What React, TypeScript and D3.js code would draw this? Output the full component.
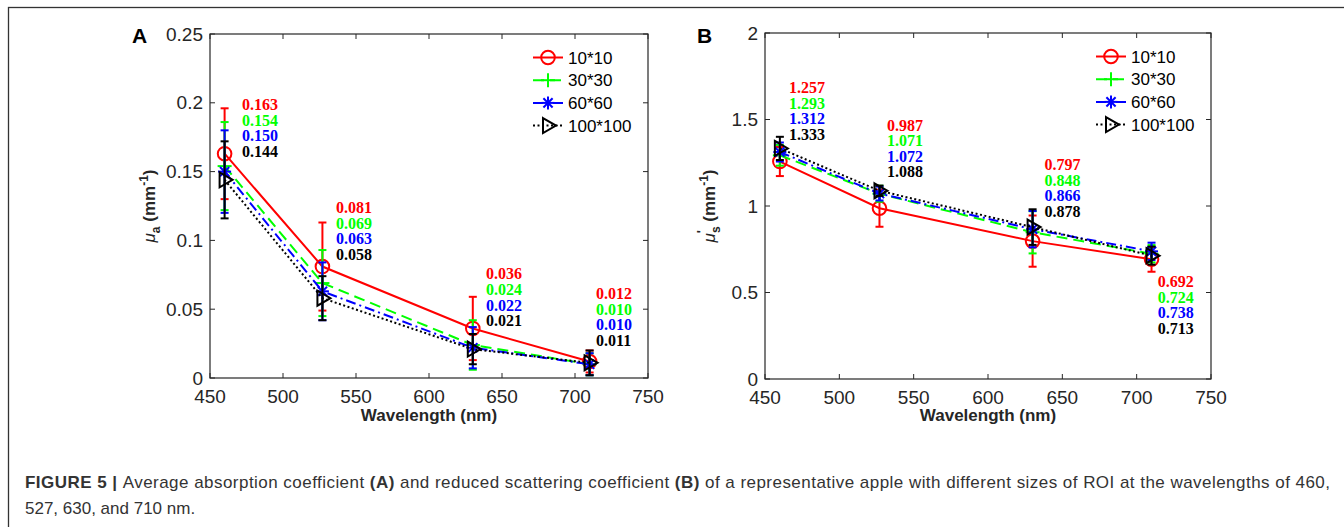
import React from 'react';
import * as d3 from 'd3';

const wavelengths = [460, 527, 630, 710];
const seriesNames = ['10*10', '30*30', '60*60', '100*100'];
const seriesColors = ['#ff0000', '#00ff00', '#0000ff', '#000000'];
const seriesDash = ['none', '11,6', '10,4,2,4', '2,2.5'];
const seriesMarkers = ['circle', 'plus', 'star', 'triangle'];

// Panel A: absorption coefficient (mm^-1)
const muA_10 = [0.163, 0.081, 0.036, 0.012];
const muA_30 = [0.154, 0.069, 0.024, 0.010];
const muA_60 = [0.150, 0.063, 0.022, 0.010];
const muA_100 = [0.144, 0.058, 0.021, 0.011];
const muAErr_10 = [0.033, 0.032, 0.023, 0.008];
const muAErr_30 = [0.032, 0.024, 0.018, 0.008];
const muAErr_60 = [0.030, 0.021, 0.015, 0.008];
const muAErr_100 = [0.028, 0.016, 0.011, 0.009];

// Panel B: reduced scattering coefficient (mm^-1)
const muS_10 = [1.257, 0.987, 0.797, 0.692];
const muS_30 = [1.293, 1.071, 0.848, 0.724];
const muS_60 = [1.312, 1.072, 0.866, 0.738];
const muS_100 = [1.333, 1.088, 0.878, 0.713];
const muSErr_10 = [0.084, 0.107, 0.148, 0.072];
const muSErr_30 = [0.060, 0.046, 0.122, 0.050];
const muSErr_60 = [0.055, 0.040, 0.105, 0.050];
const muSErr_100 = [0.067, 0.030, 0.103, 0.052];

const xTicks = [450, 500, 550, 600, 650, 700, 750];
const yTicksA = [0, 0.05, 0.1, 0.15, 0.2, 0.25];
const yTicksB = [0, 0.5, 1, 1.5, 2];

// annotation anchors in data units (wavelength, value of first line baseline)
const annotA = [[471.9, 0.1948], [536.3, 0.1199], [639, 0.0717], [714.4, 0.0572]];
const annotB = [[466.1, 1.653], [532.1, 1.436], [638, 1.208], [714.1, 0.532]];

const AXIS = '#262626';
const SANS = 'Liberation Sans, Arial, Helvetica, sans-serif';
const SERIF = 'Liberation Serif, Times New Roman, serif';

function Marker({ kind, x, y, color }: { kind: string; x: number; y: number; color: string }) {
  const sw = 2;
  if (kind === 'circle') return <circle cx={x} cy={y} r={6.8} fill="none" stroke={color} strokeWidth={sw} />;
  if (kind === 'plus')
    return (
      <g stroke={color} strokeWidth={sw}>
        <line x1={x - 7} x2={x + 7} y1={y} y2={y} />
        <line x1={x} x2={x} y1={y - 7} y2={y + 7} />
      </g>
    );
  if (kind === 'star')
    return (
      <g stroke={color} strokeWidth={sw}>
        <line x1={x - 6.5} x2={x + 6.5} y1={y} y2={y} />
        <line x1={x} x2={x} y1={y - 6.5} y2={y + 6.5} />
        <line x1={x - 4.6} x2={x + 4.6} y1={y - 4.6} y2={y + 4.6} />
        <line x1={x - 4.6} x2={x + 4.6} y1={y + 4.6} y2={y - 4.6} />
      </g>
    );
  return (
    <path
      d={`M${x - 5},${y - 7.5}L${x + 8},${y}L${x - 5},${y + 7.5}Z`}
      fill="none"
      stroke={color}
      strokeWidth={sw}
    />
  );
}

type PanelProps = {
  box: { left: number; right: number; top: number; bottom: number };
  yMax: number;
  yTicks: number[];
  values: number[][];
  errors: number[][];
  annot: number[][];
  letter: string;
  letterX: number;
  yLabelX: number;
  yLabel: React.ReactNode;
};

function Panel(p: PanelProps) {
  const { box } = p;
  const x = d3.scaleLinear().domain([450, 750]).range([box.left, box.right]);
  const y = d3.scaleLinear().domain([0, p.yMax]).range([box.bottom, box.top]);
  const line = d3
    .line<number>()
    .x((_, i) => x(wavelengths[i]))
    .y((d) => y(d));
  const tl = 5;
  const fmt = (v: number) => String(+v.toFixed(3));
  const cx = (box.left + box.right) / 2;
  const cy = (box.top + box.bottom) / 2;
  return (
    <g>
      <rect x={box.left} y={box.top} width={box.right - box.left} height={box.bottom - box.top} fill="none" stroke={AXIS} strokeWidth={1.2} />
      {xTicks.map((t) => (
        <g key={'xt' + t}>
          <line x1={x(t)} x2={x(t)} y1={box.bottom} y2={box.bottom - tl} stroke={AXIS} strokeWidth={1} />
          <line x1={x(t)} x2={x(t)} y1={box.top} y2={box.top + tl} stroke={AXIS} strokeWidth={1} />
          <text x={x(t)} y={box.bottom + 25} textAnchor="middle" fontFamily={SANS} fontSize={19} fill={AXIS}>
            {t}
          </text>
        </g>
      ))}
      {p.yTicks.map((t) => (
        <g key={'yt' + t}>
          <line x1={box.left} x2={box.left + tl} y1={y(t)} y2={y(t)} stroke={AXIS} strokeWidth={1} />
          <line x1={box.right} x2={box.right - tl} y1={y(t)} y2={y(t)} stroke={AXIS} strokeWidth={1} />
          <text x={box.left - 7} y={y(t) + 6.5} textAnchor="end" fontFamily={SANS} fontSize={19} fill={AXIS}>
            {fmt(t)}
          </text>
        </g>
      ))}
      <text x={cx} y={421} textAnchor="middle" fontFamily={SANS} fontWeight="bold" fontSize={17} fill={AXIS}>
        Wavelength (nm)
      </text>
      <text transform={`translate(${p.yLabelX},${cy}) rotate(-90)`} textAnchor="middle" fontFamily={SANS} fontWeight="bold" fontSize={17} fill={AXIS}>
        {p.yLabel}
      </text>
      <text x={p.letterX} y={43} fontFamily={SANS} fontWeight="bold" fontSize={21} fill="#000">
        {p.letter}
      </text>
      {p.values.map((vals, si) => (
        <g key={'s' + si}>
          <path d={line(vals) || ''} fill="none" stroke={seriesColors[si]} strokeWidth={2} strokeDasharray={seriesDash[si]} />
          {vals.map((v, i) => {
            const px = x(wavelengths[i]);
            const e = p.errors[si][i];
            return (
              <g key={'e' + i} stroke={seriesColors[si]} strokeWidth={2}>
                <line x1={px} x2={px} y1={y(v - e)} y2={y(v + e)} />
                <line x1={px - 4} x2={px + 4} y1={y(v - e)} y2={y(v - e)} />
                <line x1={px - 4} x2={px + 4} y1={y(v + e)} y2={y(v + e)} />
              </g>
            );
          })}
          {vals.map((v, i) => (
            <Marker key={'m' + i} kind={seriesMarkers[si]} x={x(wavelengths[i])} y={y(v)} color={seriesColors[si]} />
          ))}
        </g>
      ))}
      {p.annot.map((a, gi) => (
        <g key={'a' + gi}>
          {p.values.map((vals, si) => (
            <text
              key={si}
              x={x(a[0])}
              y={y(a[1]) + si * 15.6}
              fontFamily={SERIF}
              fontWeight="bold"
              fontSize={16}
              fill={seriesColors[si]}
            >
              {vals[gi].toFixed(3)}
            </text>
          ))}
        </g>
      ))}
      {seriesNames.map((n, si) => {
        const ly = box.top + 23.5 + si * 22.7;
        const lx0 = box.right - 115;
        const lx1 = box.right - 85;
        return (
          <g key={'l' + si}>
            <line x1={lx0} x2={lx1} y1={ly} y2={ly} stroke={seriesColors[si]} strokeWidth={2} strokeDasharray={seriesDash[si]} />
            <Marker kind={seriesMarkers[si]} x={(lx0 + lx1) / 2} y={ly} color={seriesColors[si]} />
            <text x={box.right - 80} y={ly + 6} fontFamily={SANS} fontSize={17} fill="#000">
              {n}
            </text>
          </g>
        );
      })}
    </g>
  );
}

export default function App() {
  const labelA = (
    <>
      <tspan fontStyle="italic" fontWeight="normal">μ</tspan>
      <tspan fontSize={12} dy={5}>a</tspan>
      <tspan dy={-5}> (mm</tspan>
      <tspan fontSize={12} dy={-7}>-1</tspan>
      <tspan dy={7}>)</tspan>
    </>
  );
  const labelB = (
    <>
      <tspan fontStyle="italic" fontWeight="normal">μ</tspan>
      <tspan fontSize={13} dy={-9}>'</tspan>
      <tspan fontSize={12} dx={-3} dy={14}>s</tspan>
      <tspan dy={-5}> (mm</tspan>
      <tspan fontSize={12} dy={-7}>-1</tspan>
      <tspan dy={7}>)</tspan>
    </>
  );
  return (
    <svg width={1344} height={527} style={{ position: 'absolute', left: 0, top: 0, background: '#fff' }}>
      <rect x={0} y={0} width={1344} height={527} fill="#fff" />
      <rect x={8.5} y={7.5} width={1345} height={530} fill="none" stroke="#333" strokeWidth={1.3} />
      <Panel
        box={{ left: 210, right: 648, top: 34, bottom: 378 }}
        yMax={0.25}
        yTicks={yTicksA}
        values={[muA_10, muA_30, muA_60, muA_100]}
        errors={[muAErr_10, muAErr_30, muAErr_60, muAErr_100]}
        annot={annotA}
        letter="A"
        letterX={132}
        yLabelX={155}
        yLabel={labelA}
      />
      <Panel
        box={{ left: 765, right: 1211, top: 33, bottom: 379 }}
        yMax={2}
        yTicks={yTicksB}
        values={[muS_10, muS_30, muS_60, muS_100]}
        errors={[muSErr_10, muSErr_30, muSErr_60, muSErr_100]}
        annot={annotB}
        letter="B"
        letterX={697}
        yLabelX={715}
        yLabel={labelB}
      />
      <text x={25} y={488} fontFamily={SANS} fontSize={17} fill="#333" textLength={1305} lengthAdjust="spacing">
        <tspan fontWeight="bold">FIGURE 5 | </tspan>
        Average absorption coefficient <tspan fontWeight="bold">(A)</tspan> and reduced scattering coefficient{' '}
        <tspan fontWeight="bold">(B)</tspan> of a representative apple with different sizes of ROI at the wavelengths of 460,
      </text>
      <text x={25} y={514} fontFamily={SANS} fontSize={17} fill="#333">
        527, 630, and 710 nm.
      </text>
    </svg>
  );
}
